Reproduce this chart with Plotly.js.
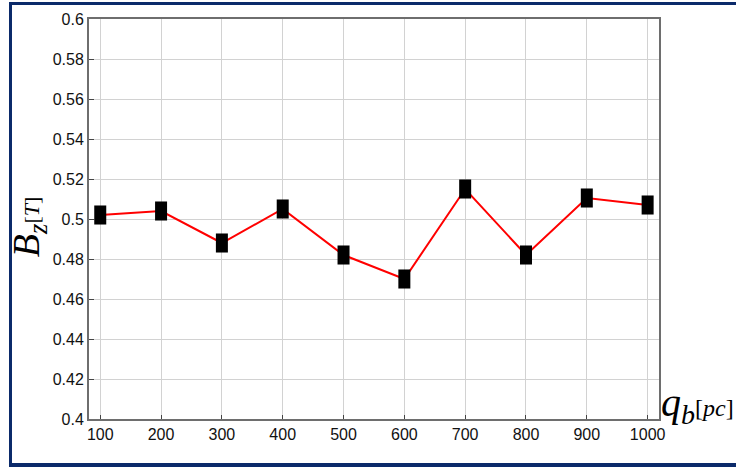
<!DOCTYPE html>
<html>
<head>
<meta charset="utf-8">
<script src="https://cdn.plot.ly/plotly-3.0.1.min.js"></script>
<style>
  html, body { margin: 0; padding: 0; background: #ffffff; }
  #wrap { position: relative; width: 736px; height: 468px; overflow: hidden; }
  #chart { position: absolute; left: 0; top: 0; width: 736px; height: 468px; }
  #frame { position: absolute; left: 9px; top: 2px; width: 740px; height: 465px;
           box-sizing: border-box; border: 3px solid #0b2a6a; border-bottom-width: 4px;
           border-right: none; pointer-events: none; }
</style>
</head>
<body>
<div id="wrap">
  <div id="chart"></div>
  <div id="frame"></div>
</div>
<script>
// Data
const qb = [100, 200, 300, 400, 500, 600, 700, 800, 900, 1000];
const Bz = [0.502, 0.504, 0.488, 0.505, 0.482, 0.470, 0.515, 0.482, 0.5105, 0.507];

const xTickVals = [100, 200, 300, 400, 500, 600, 700, 800, 900, 1000];
const xTickText = ["100", "200", "300", "400", "500", "600", "700", "800", "900", "1000"];
const yTickVals = [0.4, 0.42, 0.44, 0.46, 0.48, 0.5, 0.52, 0.54, 0.56, 0.58, 0.6];
const yTickText = ["0.4", "0.42", "0.44", "0.46", "0.48", "0.5", "0.52", "0.54", "0.56", "0.58", "0.6"];

const trace = {
  x: qb,
  y: Bz,
  type: 'scatter',
  mode: 'lines+markers',
  line: { color: '#ff0000', width: 2 },
  marker: {
    symbol: 'line-ns-open',
    size: 13.6,
    color: '#000000',
    line: { color: '#000000', width: 12 }
  },
  hoverinfo: 'skip'
};

const tickFont = { family: 'Liberation Sans, Arial, sans-serif', size: 16, color: '#111111' };

const layout = {
  width: 736,
  height: 468,
  margin: { l: 89, r: 77, t: 19, b: 49, pad: 0 },
  paper_bgcolor: '#ffffff',
  plot_bgcolor: '#ffffff',
  showlegend: false,
  xaxis: {
    range: [81.5, 1018.7],
    tickmode: 'array',
    tickvals: xTickVals,
    ticktext: xTickText,
    ticks: 'inside',
    ticklen: 4,
    tickwidth: 1,
    tickcolor: '#444444',
    showgrid: true,
    gridcolor: '#d2d2d2',
    gridwidth: 1,
    zeroline: false,
    showline: true,
    linecolor: '#6e6e6e',
    linewidth: 2,
    mirror: true,
    tickfont: tickFont
  },
  yaxis: {
    range: [0.4, 0.6],
    tickmode: 'array',
    tickvals: yTickVals,
    ticktext: yTickText,
    ticks: 'inside',
    ticklen: 5,
    tickwidth: 1,
    tickcolor: '#444444',
    showgrid: true,
    gridcolor: '#d2d2d2',
    gridwidth: 1,
    zeroline: false,
    showline: true,
    linecolor: '#6e6e6e',
    linewidth: 2,
    mirror: true,
    tickfont: tickFont
  },
  annotations: [
    {
      xref: 'paper', yref: 'paper',
      x: -0.105, y: 0.48,
      xanchor: 'center', yanchor: 'middle',
      textangle: -90,
      showarrow: false,
      text: "<i>B</i><sub><i>z</i></sub>&#8203;<span style='font-size:22px'>[<i>T</i>]</span>",
      font: { family: 'Liberation Serif, serif', size: 38, color: '#000000' }
    },
    {
      xref: 'paper', yref: 'paper',
      x: 1.0, y: 0.035,
      xanchor: 'left', yanchor: 'middle',
      showarrow: false,
      text: "<i>q</i><sub><i>b</i></sub><span style='font-size:24px'>[<i>pc</i>]</span>",
      font: { family: 'Liberation Serif, serif', size: 40, color: '#000000' }
    }
  ]
};

Plotly.newPlot('chart', [trace], layout, { staticPlot: true, displayModeBar: false });
</script>
</body>
</html>
